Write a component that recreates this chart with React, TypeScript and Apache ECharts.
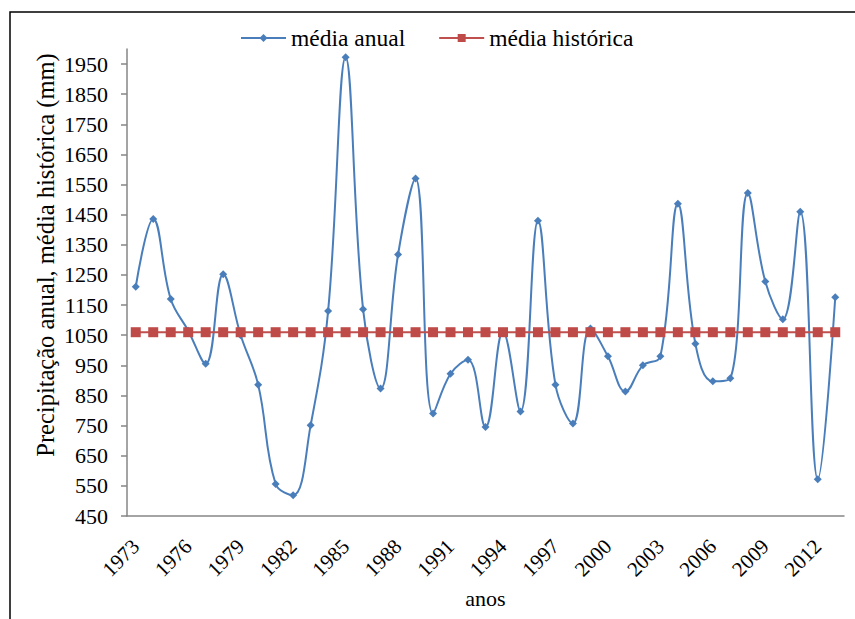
import React, { useEffect, useRef } from "react";
import * as echarts from "echarts";

const years = [
  "1973", "1974", "1975", "1976", "1977", "1978", "1979", "1980", "1981", "1982",
  "1983", "1984", "1985", "1986", "1987", "1988", "1989", "1990", "1991", "1992",
  "1993", "1994", "1995", "1996", "1997", "1998", "1999", "2000", "2001", "2002",
  "2003", "2004", "2005", "2006", "2007", "2008", "2009", "2010", "2011", "2012",
  "2013",
];

const annualMean = [
  1211, 1436, 1170, 1065, 955, 1252, 1050, 886, 556, 519,
  751, 1130, 1973, 1136, 873, 1318, 1570, 790, 922, 969,
  745, 1062, 797, 1430, 886, 757, 1072, 980, 863, 950,
  980, 1486, 1022, 897, 907, 1522, 1228, 1103, 1460, 572,
  1176,
];

const historicMean = [
  1060, 1060, 1060, 1060, 1060, 1060, 1060, 1060, 1060, 1060,
  1060, 1060, 1060, 1060, 1060, 1060, 1060, 1060, 1060, 1060,
  1060, 1060, 1060, 1060, 1060, 1060, 1060, 1060, 1060, 1060,
  1060, 1060, 1060, 1060, 1060, 1060, 1060, 1060, 1060, 1060,
  1060,
];

const yTickValues = [
  450, 550, 650, 750, 850, 950, 1050, 1150, 1250, 1350, 1450, 1550, 1650, 1750, 1850, 1950,
];

const FONT = "Liberation Serif";

export default function App() {
  const ref = useRef<HTMLDivElement>(null);

  useEffect(() => {
    document.body.style.margin = "0";
    const chart = echarts.init(ref.current!, null, { renderer: "svg" });
    chart.setOption({
      animation: false,
      backgroundColor: "#ffffff",
      textStyle: { fontFamily: FONT },
      legend: {
        left: 240,
        top: 26,
        padding: 0,
        itemWidth: 45,
        itemHeight: 10,
        itemGap: 33,
        textStyle: { fontFamily: FONT, fontSize: 23.5, color: "#000" },
        data: ["média anual", "média histórica"],
      },
      grid: { left: 127, top: 49, width: 717, height: 467 },
      xAxis: {
        type: "category",
        data: years,
        boundaryGap: true,
        axisLine: { lineStyle: { color: "#868686", width: 1.5 } },
        axisTick: { show: false },
        axisLabel: {
          interval: 2,
          rotate: 45,
          margin: 27,
          fontFamily: FONT,
          fontSize: 21,
          color: "#000",
        },
        name: "anos",
        nameLocation: "middle",
        nameGap: 71,
        nameTextStyle: { fontFamily: FONT, fontSize: 22, color: "#000" },
        splitLine: { show: false },
      },
      yAxis: {
        type: "value",
        min: 450,
        max: 2000,
        axisLine: { show: true, lineStyle: { color: "#868686", width: 1.5 } },
        axisTick: {
          show: true,
          length: 6,
          customValues: yTickValues,
          lineStyle: { color: "#868686", width: 1.5 },
        },
        axisLabel: {
          customValues: yTickValues,
          formatter: (v: number) => String(v),
          margin: 19,
          fontFamily: FONT,
          fontSize: 22,
          color: "#000",
        },
        splitLine: { show: false },
      },
      series: [
        {
          name: "média anual",
          type: "line",
          data: annualMean,
          smooth: 0.4,
          symbol: "diamond",
          symbolSize: 8,
          lineStyle: { color: "#4A7EBB", width: 2 },
          itemStyle: { color: "#4A7EBB" },
        },
        {
          name: "média histórica",
          type: "line",
          data: historicMean,
          symbol: "rect",
          symbolSize: 10,
          lineStyle: { color: "#C0504D", width: 2 },
          itemStyle: { color: "#BE4B48" },
        },
      ],
      graphic: [
        {
          type: "rect",
          shape: { x: 10, y: 12, width: 900, height: 700 },
          style: { fill: "none", stroke: "#000", lineWidth: 1.5 },
          silent: true,
        },
        {
          type: "text",
          x: 45,
          y: 255,
          rotation: Math.PI / 2,
          style: {
            text: "Precipitação anual, média histórica (mm)",
            fontFamily: FONT,
            fontSize: 24.5,
            fill: "#000",
            align: "center",
            verticalAlign: "middle",
          },
        },
      ],
    });
    return () => chart.dispose();
  }, []);

  return <div ref={ref} style={{ width: 855, height: 619 }} />;
}
